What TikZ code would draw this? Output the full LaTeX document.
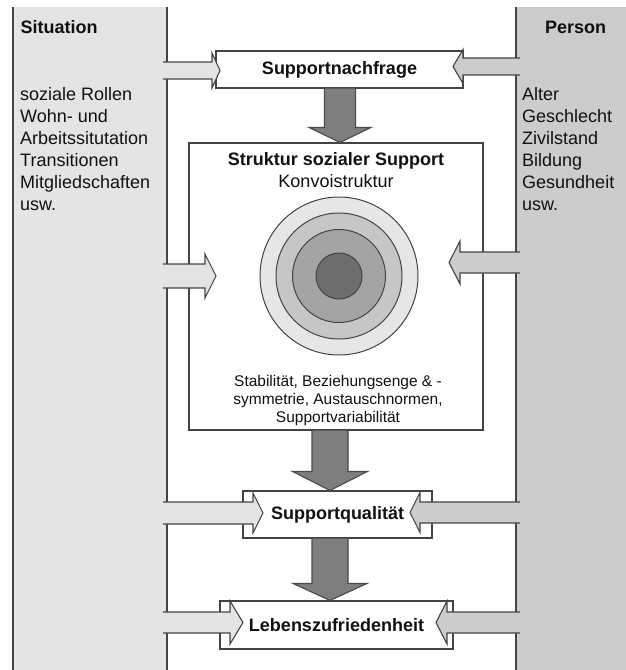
\documentclass[tikz,border=0pt]{standalone}
\usepackage{fontspec}
\setmainfont{Liberation Sans}
\usetikzlibrary{calc}

\definecolor{lightpanel}{HTML}{E4E4E4}
\definecolor{darkpanel}{HTML}{CCCCCC}
\definecolor{edgegray}{HTML}{444444}
\definecolor{blockfill}{HTML}{7E7E7E}
\definecolor{blockedge}{HTML}{4A4A4A}
\definecolor{ink}{HTML}{111111}
\definecolor{ringA}{HTML}{E6E6E6}
\definecolor{ringB}{HTML}{C6C6C6}
\definecolor{ringC}{HTML}{A4A4A4}
\definecolor{ringD}{HTML}{6E6E6E}

\tikzset{
  edgeline/.style={draw=edgegray, line width=1.1pt},
  panel/.style={inner sep=0pt, outer sep=0pt, draw=none},
  titlebox/.style={draw=edgegray, line width=1.1pt, fill=white, inner sep=0pt,
    font=\bfseries\fontsize{18}{22}\selectfont, text=ink},
  plainbox/.style={draw=edgegray, line width=1.1pt, fill=white, inner sep=0pt},
  ring/.style={circle, draw=edgegray, line width=1pt, inner sep=0pt},
  headtext/.style={font=\bfseries\fontsize{18}{22}\selectfont, text=ink, inner sep=0pt},
  bodytext/.style={font=\fontsize{18}{22}\selectfont, text=ink, inner sep=0pt},
  listtext/.style={font=\fontsize{18}{22}\selectfont, text=ink, inner sep=0pt, align=left},
  smalltext/.style={font=\fontsize{15.5}{18}\selectfont, text=ink, inner sep=0pt, align=center},
  blockline/.style={draw=blockedge, line width=1.1pt, line join=miter},
}

% block arrow leaving a side panel: #1 fill, #2 panel anchor, #3 overlap into panel,
% #4 x of head back, #5 x of tip, #6 centre y, #7 half shaft, #8 half head
\newcommand\sidearrow[8]{%
  \fill[#1] let \p1=(#2) in
    (\x1#3,#6-#7) -- (#4,#6-#7) -- (#4,#6-#8) -- (#5,#6) -- (#4,#6+#8)
    -- (#4,#6+#7) -- (\x1#3,#6+#7) -- cycle;
  \draw[edgeline, line join=miter] let \p1=(#2) in
    (\x1#3,#6-#7) -- (#4,#6-#7) -- (#4,#6-#8) -- (#5,#6) -- (#4,#6+#8)
    -- (#4,#6+#7) -- (\x1#3,#6+#7);
}

% downward block arrow from one box to the next:
% #1 source, #2 target, #3 centre x, #4 half shaft, #5 half head, #6 head length
\newcommand\downblock[6]{%
  \fill[blockfill] let \p1=(#1.south), \p2=(#2.north) in
    (#3pt-#4pt,\y1) -- (#3pt-#4pt,\y2+#6pt) -- (#3pt-#5pt,\y2+#6pt) -- (#3pt,\y2)
    -- (#3pt+#5pt,\y2+#6pt) -- (#3pt+#4pt,\y2+#6pt) -- (#3pt+#4pt,\y1) -- cycle;
  \draw[blockline] let \p1=(#1.south), \p2=(#2.north) in
    (#3pt-#4pt,\y1) -- (#3pt-#4pt,\y2+#6pt) -- (#3pt-#5pt,\y2+#6pt) -- (#3pt,\y2)
    -- (#3pt+#5pt,\y2+#6pt) -- (#3pt+#4pt,\y2+#6pt) -- (#3pt+#4pt,\y1);
}

\begin{document}
\begin{tikzpicture}[x=1pt,y=-1pt]
\useasboundingbox (0,0) rectangle (626,670);
\fill[white] (0,0) rectangle (626,670);

% side panels
\node[panel, fill=lightpanel, minimum width=154pt, minimum height=663pt, anchor=north west] (sit) at (13,7) {};
\node[panel, fill=darkpanel, minimum width=110pt, minimum height=663pt, anchor=north west] (per) at (516,7) {};
\draw[edgeline, line width=1.8pt] (sit.north west) -- (sit.south west);
\draw[edgeline] (sit.north east) -- (sit.south east);
\draw[edgeline] (per.north west) -- (per.south west);

% boxes
\node[titlebox, minimum width=247pt, minimum height=37pt] (snf) at (339.5,69.5) {Supportnachfrage};
\node[plainbox, minimum width=294pt, minimum height=287pt] (sss) at (336,286.5) {};
\node[titlebox, minimum width=189pt, minimum height=47pt] (sq) at (337.5,514.5) {Supportqualität};
\node[titlebox, minimum width=233pt, minimum height=48pt] (lz) at (336.5,625) {Lebenszufriedenheit};

% convoy circles
\node[ring, fill=ringA, minimum size=158pt] (c1) at (339,276) {};
\node[ring, fill=ringB, minimum size=126pt] (c2) at (339,276) {};
\node[ring, fill=ringC, minimum size=93pt] (c3) at (339,276) {};
\node[ring, fill=ringD, minimum size=46pt] (c4) at (339,276) {};

% texts
\node[headtext, anchor=base west] (sittitle) at (20.5,33) {Situation};
\node[headtext, anchor=base west] (pertitle) at (545,33) {Person};
\node[listtext, anchor=north west] (sitlist) at (20,87)
  {soziale Rollen\\Wohn- und\\Arbeitssitutation\\Transitionen\\Mitgliedschaften\\usw.};
\node[listtext, anchor=north west] (perlist) at (522,87)
  {Alter\\Geschlecht\\Zivilstand\\Bildung\\Gesundheit\\usw.};
\node[headtext, anchor=base] (ssstitle) at (336,165) {Struktur sozialer Support};
\node[bodytext, anchor=base] (konvoi) at (336,187) {Konvoistruktur};
\node[smalltext, anchor=north] (dims) at (338,375)
  {Stabilität, Beziehungsenge \& -\\symmetrie, Austauschnormen,\\Supportvariabilität};

% arrows from the side panels
\sidearrow{lightpanel}{sit.east}{-4pt}{212}{220}{70.5}{8.5}{17.5}
\sidearrow{darkpanel}{per.west}{+4pt}{463}{453}{66.5}{8.5}{17}
\sidearrow{lightpanel}{sit.east}{-4pt}{205}{216}{276}{12}{22}
\sidearrow{darkpanel}{per.west}{+4pt}{460}{449}{262.5}{10.5}{21.5}
\sidearrow{lightpanel}{sit.east}{-4pt}{253}{263}{513}{11}{20}
\sidearrow{darkpanel}{per.west}{+4pt}{420}{410}{512.5}{10.5}{20}
\sidearrow{lightpanel}{sit.east}{-4pt}{230}{243}{622.5}{10.5}{21.5}
\sidearrow{darkpanel}{per.west}{+4pt}{447}{436}{622.5}{10.5}{21.5}

% arrows between the boxes
\downblock{snf}{sss}{340}{15.5}{31}{15}
\downblock{sss}{sq}{330}{18}{37.5}{19}
\downblock{sq}{lz}{330}{18}{37}{17}
\end{tikzpicture}
\end{document}
